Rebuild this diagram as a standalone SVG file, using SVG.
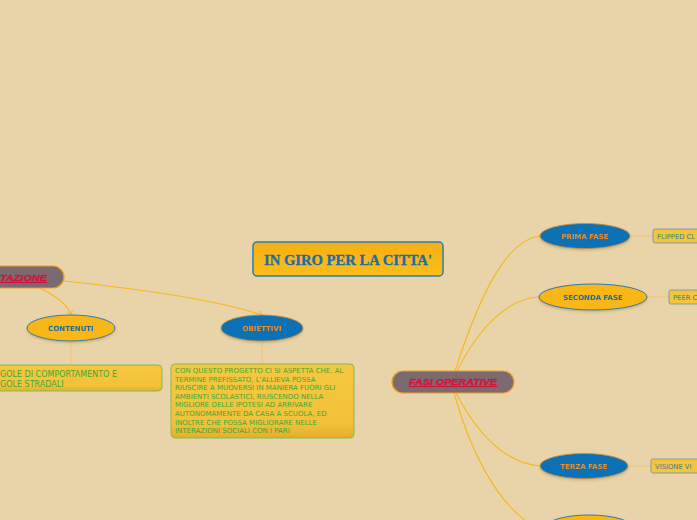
<svg xmlns="http://www.w3.org/2000/svg" width="697" height="520" viewBox="0 0 697 520">
<defs>
<style>
.conn{fill:none;stroke:#F6B71C;stroke-width:1.1}
.connl{fill:none;stroke:#F3C56A;stroke-width:1}
.eb{fill:#0B72B5;stroke:#C98A3A;stroke-width:0.8}
.eo{fill:#F8B716;stroke:#2F7BAA;stroke-width:1}
.tb{font-family:"DejaVu Sans",Verdana,sans-serif;font-weight:bold;font-size:7px;fill:#1D6AA5;text-anchor:middle}
.to{font-family:"DejaVu Sans",Verdana,sans-serif;font-weight:bold;font-size:7px;fill:#EE8B2C;text-anchor:middle}
.grey{fill:#7B6B70;stroke:#F0A020;stroke-width:1.2}
.red{font-family:"Liberation Sans",Arial,sans-serif;font-weight:bold;font-style:italic;font-size:9.5px;fill:#D4123C;stroke:#D4123C;stroke-width:0.35;text-decoration:underline}
.note{fill:url(#ng);stroke:#7EBB5C;stroke-width:1}
.nt{font-family:"DejaVu Sans",Verdana,sans-serif;font-size:8px;fill:#3CA83A}
.nt2{font-family:"DejaVu Sans",Verdana,sans-serif;font-size:7px;fill:#3CA83A}
.sb{fill:#F4C53C;stroke:#7F9EA2;stroke-width:1}
.st{font-family:"DejaVu Sans",Verdana,sans-serif;font-size:6.8px;fill:#3F7D8C}
</style>
<linearGradient id="ng" x1="0" y1="0" x2="0" y2="1">
<stop offset="0" stop-color="#F6C83F"/>
<stop offset="0.8" stop-color="#F3C13A"/>
<stop offset="1" stop-color="#E5AE2A"/>
</linearGradient>
<linearGradient id="tg" x1="0" y1="0" x2="0" y2="1">
<stop offset="0" stop-color="#F6AF15"/>
<stop offset="1" stop-color="#FBBE1A"/>
</linearGradient>
<marker id="arr" viewBox="0 0 6 6" refX="5" refY="3" markerWidth="5" markerHeight="5" orient="auto">
<path d="M0,0 L6,3 L0,6" fill="none" stroke="#F6B71C" stroke-width="1"/>
</marker>
<filter id="sh" x="-20%" y="-30%" width="140%" height="170%">
<feDropShadow dx="0" dy="1.5" stdDeviation="1" flood-color="#8A6A30" flood-opacity="0.35"/>
</filter>
</defs>
<rect x="0" y="0" width="697" height="520" fill="#E8D4A8"/>

<g id="connectors">
<path class="conn" d="M40,288 C56,296 68,305 71,315" marker-end="url(#arr)"/>
<path class="conn" d="M64,281 C140,289 220,301 262,315" marker-end="url(#arr)"/>
<path class="connl" d="M71,341 L71,365"/>
<path class="connl" d="M262,341 L262,364"/>
<path class="conn" d="M455,371 C478,300 505,240 540,236"/>
<path class="conn" d="M457,371 C480,325 510,298 539,297"/>
<path class="conn" d="M456,393 C478,435 505,463 540,466"/>
<path class="conn" d="M454,393 C470,450 495,500 530,524"/>
<path class="connl" d="M630,236 L653,236"/>
<path class="connl" d="M647,297 L669,297"/>
<path class="connl" d="M628,466 L651,466"/>
</g>

<g id="title">
<rect x="253" y="242" width="190" height="34" rx="4" fill="url(#tg)" stroke="#2A7DB0" stroke-width="1.5"/>
<text x="348" y="265" text-anchor="middle" font-family="'Liberation Serif','DejaVu Serif',serif" font-weight="bold" font-size="15" fill="#1C6CA8" stroke="#1C6CA8" stroke-width="0.3" textLength="168" lengthAdjust="spacingAndGlyphs">IN GIRO PER LA CITTA'</text>
</g>

<g id="tazione">
<rect class="grey" x="-30" y="266" width="94" height="22" rx="11"/>
<text class="red" x="47" y="281" text-anchor="end" textLength="47" lengthAdjust="spacingAndGlyphs">TAZIONE</text>
</g>

<g id="contenuti" filter="url(#sh)">
<ellipse class="eo" cx="71" cy="328" rx="44" ry="13"/>
<text class="tb" x="71" y="330.5">CONTENUTI</text>
</g>

<g id="regole">
<rect class="note" x="-10" y="365" width="172" height="26" rx="4"/>
<text class="nt" x="0" y="377">GOLE DI COMPORTAMENTO E</text>
<text class="nt" x="0" y="387">GOLE STRADALI</text>
</g>

<g id="obiettivi" filter="url(#sh)">
<ellipse class="eb" cx="262" cy="328" rx="41" ry="13"/>
<text class="to" x="262" y="330.5">OBIETTIVI</text>
</g>

<g id="obiettivi-testo">
<rect class="note" x="171" y="364" width="183" height="74" rx="4"/>
<text class="nt2" x="175" y="373">CON QUESTO PROGETTO CI SI ASPETTA CHE, AL</text>
<text class="nt2" x="175" y="381.6">TERMINE PREFISSATO, L'ALLIEVA POSSA</text>
<text class="nt2" x="175" y="390.2">RIUSCIRE A MUOVERSI IN MANIERA FUORI GLI</text>
<text class="nt2" x="175" y="398.8">AMBIENTI SCOLASTICI, RIUSCENDO NELLA</text>
<text class="nt2" x="175" y="407.4">MIGLIORE DELLE IPOTESI AD ARRIVARE</text>
<text class="nt2" x="175" y="416">AUTONOMAMENTE DA CASA A SCUOLA, ED</text>
<text class="nt2" x="175" y="424.6">INOLTRE CHE POSSA MIGLIORARE NELLE</text>
<text class="nt2" x="175" y="433.2">INTERAZIONI SOCIALI CON I PARI</text>
</g>

<g id="fasi">
<rect class="grey" x="392" y="371" width="122" height="22" rx="11"/>
<text class="red" x="453" y="385" text-anchor="middle" textLength="88" lengthAdjust="spacingAndGlyphs">FASI OPERATIVE</text>
</g>

<g id="prima" filter="url(#sh)">
<ellipse class="eb" cx="585" cy="236" rx="45" ry="12.5"/>
<text class="to" x="585" y="238.5">PRIMA FASE</text>
</g>
<g id="flipped">
<rect class="sb" x="653" y="229" width="60" height="14" rx="2"/>
<text class="st" x="657" y="238.5">FLIPPED CL</text>
</g>

<g id="seconda" filter="url(#sh)">
<ellipse class="eo" cx="593" cy="297" rx="54" ry="13" stroke="#5E8FA8"/>
<text class="tb" x="593" y="299.5">SECONDA FASE</text>
</g>
<g id="peer">
<rect class="sb" x="669" y="290" width="50" height="14" rx="2"/>
<text class="st" x="673" y="299.5">PEER C</text>
</g>

<g id="terza" filter="url(#sh)">
<ellipse class="eb" cx="584" cy="466" rx="44" ry="12.5"/>
<text class="to" x="584" y="468.5">TERZA FASE</text>
</g>
<g id="visione">
<rect class="sb" x="651" y="459" width="60" height="14" rx="2"/>
<text class="st" x="655" y="468.5">VISIONE VI</text>
</g>

<g id="quarta" filter="url(#sh)">
<ellipse class="eo" cx="589" cy="528" rx="44" ry="13" stroke="#5E8FA8"/>
</g>
</svg>
